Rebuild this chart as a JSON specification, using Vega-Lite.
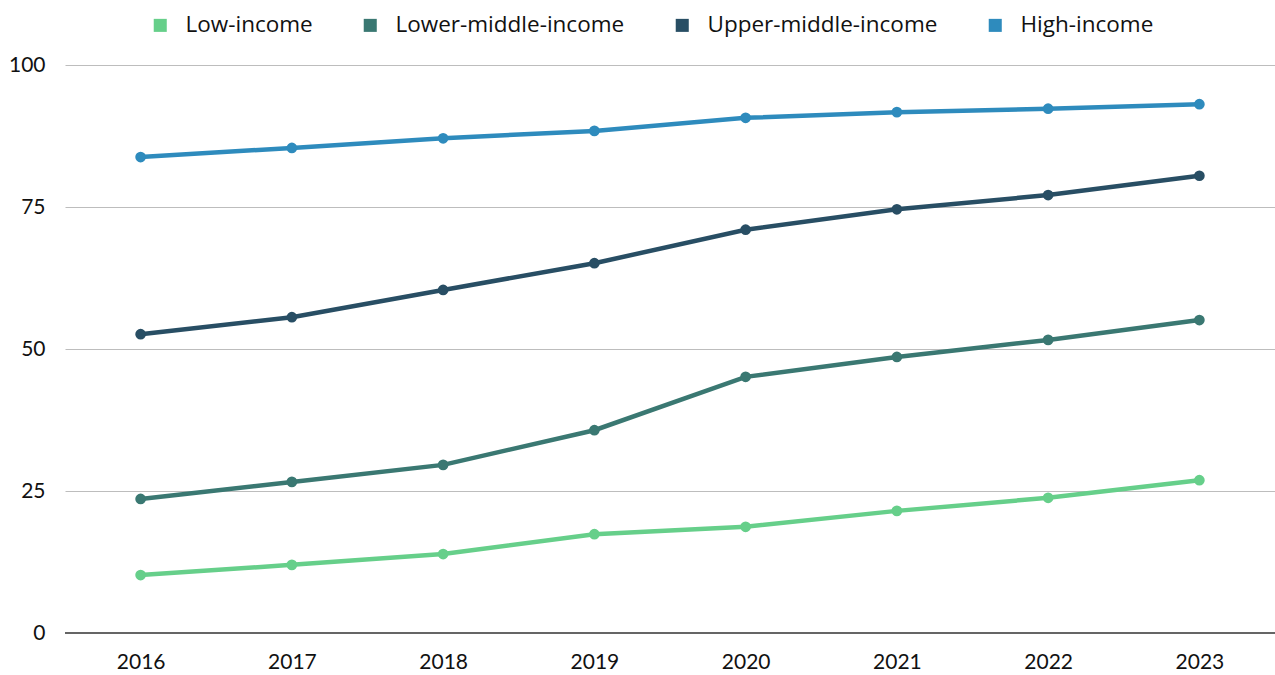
{
  "$schema": "https://vega.github.io/schema/vega-lite/v6.json",
  "autosize": {"type": "none"},
  "width": 1210,
  "height": 568,
  "padding": {"left": 65, "top": 65, "right": 0, "bottom": 42},
  "background": "white",
  "config": {
    "font": "Lato",
    "view": {"stroke": null}
  },
  "data": {
    "values": [
      {"year": "2016", "group": "Low-income", "value": 10.2},
      {"year": "2017", "group": "Low-income", "value": 12.0},
      {"year": "2018", "group": "Low-income", "value": 13.9},
      {"year": "2019", "group": "Low-income", "value": 17.4},
      {"year": "2020", "group": "Low-income", "value": 18.7},
      {"year": "2021", "group": "Low-income", "value": 21.5},
      {"year": "2022", "group": "Low-income", "value": 23.8},
      {"year": "2023", "group": "Low-income", "value": 26.9},
      {"year": "2016", "group": "Lower-middle-income", "value": 23.6},
      {"year": "2017", "group": "Lower-middle-income", "value": 26.6},
      {"year": "2018", "group": "Lower-middle-income", "value": 29.6},
      {"year": "2019", "group": "Lower-middle-income", "value": 35.7},
      {"year": "2020", "group": "Lower-middle-income", "value": 45.1},
      {"year": "2021", "group": "Lower-middle-income", "value": 48.6},
      {"year": "2022", "group": "Lower-middle-income", "value": 51.6},
      {"year": "2023", "group": "Lower-middle-income", "value": 55.1},
      {"year": "2016", "group": "Upper-middle-income", "value": 52.6},
      {"year": "2017", "group": "Upper-middle-income", "value": 55.6},
      {"year": "2018", "group": "Upper-middle-income", "value": 60.4},
      {"year": "2019", "group": "Upper-middle-income", "value": 65.1},
      {"year": "2020", "group": "Upper-middle-income", "value": 71.0},
      {"year": "2021", "group": "Upper-middle-income", "value": 74.6},
      {"year": "2022", "group": "Upper-middle-income", "value": 77.1},
      {"year": "2023", "group": "Upper-middle-income", "value": 80.5},
      {"year": "2016", "group": "High-income", "value": 83.8},
      {"year": "2017", "group": "High-income", "value": 85.4},
      {"year": "2018", "group": "High-income", "value": 87.1},
      {"year": "2019", "group": "High-income", "value": 88.4},
      {"year": "2020", "group": "High-income", "value": 90.7},
      {"year": "2021", "group": "High-income", "value": 91.7},
      {"year": "2022", "group": "High-income", "value": 92.3},
      {"year": "2023", "group": "High-income", "value": 93.1}
    ]
  },
  "encoding": {
    "x": {
      "field": "year", "type": "ordinal",
      "scale": {"type": "point", "padding": 0.5},
      "axis": {
        "title": null, "labelAngle": 0, "labelFontSize": 21, "labelColor": "#111111",
        "ticks": false, "domain": false, "grid": false, "labelPadding": 18
      }
    },
    "y": {
      "field": "value", "type": "quantitative",
      "scale": {"domain": [0, 100], "nice": false},
      "axis": {
        "title": null, "values": [0, 25, 50, 75, 100], "labelFontSize": 21, "labelColor": "#111111",
        "ticks": false, "domain": false, "gridColor": "#bdbdbd", "gridWidth": 1.2, "labelPadding": 20
      }
    },
    "color": {
      "field": "group", "type": "nominal",
      "scale": {
        "domain": ["Low-income", "Lower-middle-income", "Upper-middle-income", "High-income"],
        "range": ["#66cf8a", "#3a7872", "#284e64", "#2e8bbd"]
      },
      "legend": {
        "title": null, "orient": "none", "direction": "horizontal",
        "legendX": 84, "legendY": -51,
        "symbolType": "square", "symbolSize": 170, "symbolStrokeWidth": 0, "symbolOpacity": 1,
        "labelFont": "Open Sans", "labelLimit": 0,
        "labelFontSize": 22.5, "labelColor": "#111111", "columnPadding": 46, "labelOffset": 14
      }
    }
  },
  "layer": [
    {
      "mark": {"type": "rule", "color": "#666666", "strokeWidth": 1.5},
      "encoding": {"y": {"datum": 0}, "x": null, "color": null}
    },
    {
      "mark": {"type": "line", "strokeWidth": 4.5}
    },
    {
      "mark": {"type": "point", "filled": true, "size": 115, "opacity": 1}
    }
  ]
}
